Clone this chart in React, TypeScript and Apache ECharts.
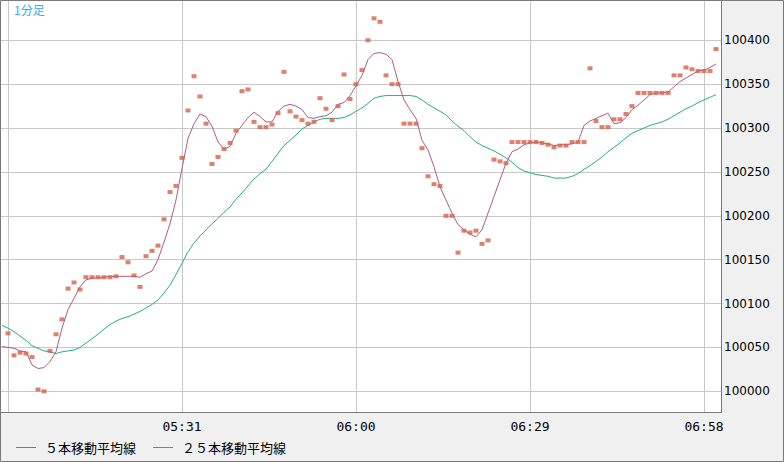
import React, { useEffect, useRef } from "react";
import * as echarts from "echarts";

// index 0 = 05:01 ... index 119 = 07:00
const times = [
  "05:01","05:02","05:03","05:04","05:05","05:06","05:07","05:08","05:09","05:10",
  "05:11","05:12","05:13","05:14","05:15","05:16","05:17","05:18","05:19","05:20",
  "05:21","05:22","05:23","05:24","05:25","05:26","05:27","05:28","05:29","05:30",
  "05:31","05:32","05:33","05:34","05:35","05:36","05:37","05:38","05:39","05:40",
  "05:41","05:42","05:43","05:44","05:45","05:46","05:47","05:48","05:49","05:50",
  "05:51","05:52","05:53","05:54","05:55","05:56","05:57","05:58","05:59","06:00",
  "06:01","06:02","06:03","06:04","06:05","06:06","06:07","06:08","06:09","06:10",
  "06:11","06:12","06:13","06:14","06:15","06:16","06:17","06:18","06:19","06:20",
  "06:21","06:22","06:23","06:24","06:25","06:26","06:27","06:28","06:29","06:30",
  "06:31","06:32","06:33","06:34","06:35","06:36","06:37","06:38","06:39","06:40",
  "06:41","06:42","06:43","06:44","06:45","06:46","06:47","06:48","06:49","06:50",
  "06:51","06:52","06:53","06:54","06:55","06:56","06:57","06:58","06:59","07:00",
];

const price = [
  null,
  100066,100041,100044,100043,100039,100002,100000,100046,100065,100082,
  100117,100124,100116,100130,100130,100130,100130,100130,100131,100153,
  100147,100132,100119,100154,100160,100166,100196,100227,100234,100266,
  100320,100359,100336,100305,100259,100267,100276,100283,100297,100342,
  100344,100307,100301,100301,100304,100317,100364,100319,100313,100309,
  100305,100307,100334,100322,100309,100325,100361,100333,100350,100366,
  100400,100425,100421,100360,100350,100350,100305,100305,100305,100277,
  100245,100236,100234,100200,100200,100158,100183,100181,100183,100168,
  100172,100264,100262,100260,100284,100284,100284,100284,100284,100283,
  100281,100278,100280,100280,100284,100284,100284,100368,100308,100301,
  100301,100310,100310,100316,100325,100340,100340,100340,100340,100340,
  100340,100360,100360,100369,100367,100365,100365,100365,100390,
];

const ma5 = [
  100051,
  100050,100049,100046,100045,100030,100026,100027,100034,100045,100072,
  100093,100106,100119,100127,100129,100129,100130,100131,100131,100131,
  100131,100131,100130,100134,100137,100150,100170,100191,100218,100254,
  100288,100305,100316,100313,100302,100284,100276,100279,100294,100303,
  100312,100318,100313,100307,100307,100319,100325,100327,100325,100321,
  100312,100311,100313,100314,100318,100327,100329,100337,100348,100360,
  100378,100385,100386,100384,100378,100353,100332,100321,100311,100286,
  100275,100256,100233,100218,100203,100190,100184,100179,100176,100184,
  100203,100222,100241,100260,100273,100276,100281,100283,100284,100283,
  100282,100280,100281,100281,100282,100284,100303,100308,100311,100314,
  100317,100305,100306,100312,100321,100326,100332,100338,100340,100340,
  100341,100347,100353,100357,100361,100365,100366,100369,100373,
];

const ma25 = [
  100075,
  100072,100068,100063,100058,100052,100049,100046,100045,100043,100045,
  100046,100047,100050,100055,100060,100065,100071,100076,100080,100083,
  100085,100088,100091,100095,100099,100104,100112,100121,100133,100146,
  100159,100169,100177,100184,100191,100197,100204,100210,100219,100226,
  100234,100242,100248,100253,100262,100271,100280,100286,100292,100299,
  100303,100307,100310,100311,100311,100311,100312,100315,100319,100323,
  100328,100334,100336,100337,100337,100337,100337,100337,100336,100332,
  100327,100323,100319,100315,100308,100302,100297,100290,100284,100280,
  100277,100274,100270,100266,100261,100255,100251,100249,100247,100246,
  100245,100243,100243,100243,100245,100248,100253,100257,100262,100267,
  100273,100278,100283,100289,100294,100297,100300,100303,100305,100307,
  100310,100314,100318,100322,100325,100329,100332,100335,100338,
];

const yTicks = [100000, 100050, 100100, 100150, 100200, 100250, 100300, 100350, 100400];
const xGridTimes = ["05:02", "05:31", "06:00", "06:29", "06:58"];
const xLabelTimes = ["05:31", "06:00", "06:29", "06:58"];
const seriesNames = ["５本移動平均線", "２５本移動平均線"];
const chartTitle = "1分足";

const pairs = (arr: (number | null)[]) => arr.map((v, i) => [i, v]);

export default function App() {
  const ref = useRef<HTMLDivElement>(null);
  useEffect(() => {
    if (!ref.current) return;
    const chart = echarts.init(ref.current, null, { renderer: "svg" });
    const gridIdx = xGridTimes.map((t) => times.indexOf(t));
    const labelIdx = xLabelTimes.map((t) => times.indexOf(t));
    chart.setOption({
      animation: false,
      backgroundColor: "#f0f0f0",
      grid: {
        left: 0,
        top: 0,
        width: 721,
        height: 412,
        show: true,
        backgroundColor: "#ffffff",
        borderWidth: 0,
      },
      xAxis: {
        type: "value",
        min: -1 / 3,
        max: 119 + 5 / 6,
        axisLine: { show: false },
        axisTick: { show: false, customValues: gridIdx },
        splitLine: { show: true, lineStyle: { color: "#c8c8c8", width: 1 } },
        axisLabel: {
          customValues: labelIdx,
          formatter: (v: number) => times[Math.round(v)],
          margin: 8,
          fontFamily: "DejaVu Sans Mono",
          fontSize: 13,
          color: "#000",
        },
      },
      yAxis: {
        type: "value",
        position: "right",
        min: 99976.4,
        max: 100445.9,
        axisLine: { show: false },
        axisTick: { show: false, customValues: yTicks },
        splitLine: { show: true, lineStyle: { color: "#c8c8c8", width: 1 } },
        axisLabel: {
          customValues: yTicks,
          formatter: (v: number) => String(Math.round(v)),
          margin: 3,
          fontFamily: "DejaVu Sans",
          fontSize: 12,
          color: "#000",
        },
      },
      legend: {
        left: 16,
        top: 441,
        padding: 0,
        itemWidth: 20,
        itemHeight: 1,
        itemGap: 17,
        icon: "rect",
        selectedMode: false,
        data: seriesNames,
        textStyle: {
          fontFamily: "Noto Sans CJK JP",
          fontSize: 13,
          color: "#000",
          padding: [0, 0, 0, 4],
        },
      },
      graphic: [
        {
          type: "text",
          left: 14,
          top: 3,
          style: {
            text: chartTitle,
            fill: "#2fb0ea",
            font: '12px "Noto Sans CJK JP"',
          },
          z: 100,
        },
        {
          type: "line",
          shape: { x1: 721.5, y1: 0, x2: 721.5, y2: 413 },
          style: { stroke: "#7a7a7a", lineWidth: 1 },
          z: 100,
        },
        {
          type: "line",
          shape: { x1: 0, y1: 412.5, x2: 722, y2: 412.5 },
          style: { stroke: "#7a7a7a", lineWidth: 1 },
          z: 100,
        },
        {
          type: "rect",
          shape: { x: 0.5, y: 0.5, width: 783, height: 461 },
          style: { fill: "none", stroke: "#7a7a7a", lineWidth: 1 },
          z: 100,
        },
      ],
      series: [
        {
          name: seriesNames[1],
          type: "line",
          data: pairs(ma25),
          showSymbol: false,
          symbol: "none",
          lineStyle: { color: "#22b07d", width: 1 },
          itemStyle: { color: "#22b07d" },
          z: 2,
        },
        {
          name: seriesNames[0],
          type: "line",
          data: pairs(ma5),
          showSymbol: false,
          symbol: "none",
          lineStyle: { color: "#b05a84", width: 1 },
          itemStyle: { color: "#b05a84" },
          z: 3,
        },
        {
          name: "price",
          type: "scatter",
          data: pairs(price),
          symbol: "rect",
          symbolSize: [5, 4],
          itemStyle: { color: "#d6604a" },
          z: 4,
        },
      ],
    });
    return () => chart.dispose();
  }, []);
  return (
    <div
      ref={ref}
      style={{ position: "fixed", left: 0, top: 0, width: 784, height: 462 }}
    />
  );
}
